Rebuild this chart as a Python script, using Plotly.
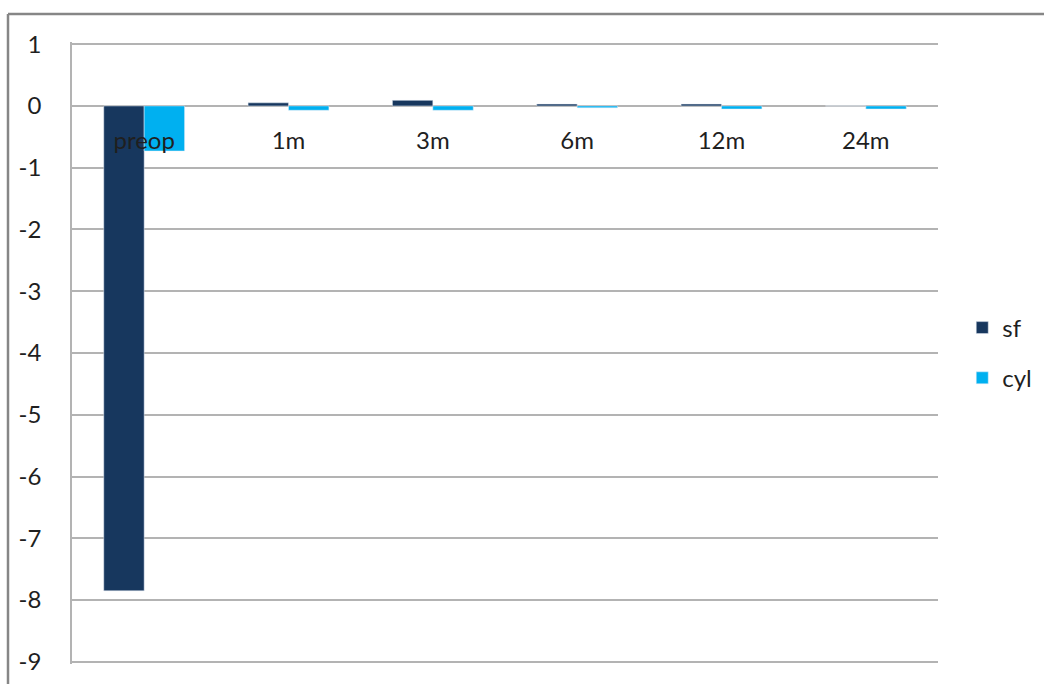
import plotly.graph_objects as go

# Mean values per follow-up visit
categories = ["preop", "1m", "3m", "6m", "12m", "24m"]
sf_values = [-7.85, 0.05, 0.09, 0.03, 0.03, 0.0]
cyl_values = [-0.73, -0.07, -0.07, -0.03, -0.05, -0.05]
y_ticks = [1, 0, -1, -2, -3, -4, -5, -6, -7, -8, -9]

W, H = 1044, 684
L, R, T, B = 72, 106, 42, 20
pw, ph = W - L - R, H - T - B

font = dict(family="Lato, Open Sans, Arial, sans-serif", size=24, color="#1f1f1f")

fig = go.Figure()
fig.add_trace(go.Bar(name="sf", x=categories, y=sf_values, marker=dict(color="#17375e"),
                     legendgroup="sf"))
fig.add_trace(go.Bar(name="cyl", x=categories, y=cyl_values, marker=dict(color="#00b0f0"),
                     legendgroup="cyl"))

# outer chart frame (top and left edges run off the page)
fx0 = (8 - L) / pw
fy1 = (H - B - 14) / ph
fig.add_shape(type="line", xref="paper", yref="paper", x0=fx0, x1=(W + 20 - L) / pw,
              y0=fy1, y1=fy1, line=dict(color="#868686", width=2.5))
fig.add_shape(type="line", xref="paper", yref="paper", x0=fx0, x1=fx0,
              y0=fy1, y1=-(B + 20) / ph, line=dict(color="#868686", width=2.5))

y_lo, y_hi = -9.035, 1.035
zero_frac = (0 - y_lo) / (y_hi - y_lo)

fig.update_layout(
    width=W, height=H,
    margin=dict(l=L, r=R, t=T, b=B, autoexpand=False),
    paper_bgcolor="white", plot_bgcolor="white",
    barmode="group", bargap=0.44, bargroupgap=0,
    font=font,
    showlegend=True,
    legend=dict(x=1.028, y=0.5, xanchor="left", yanchor="middle",
                font=dict(size=24, color="#1f1f1f"), tracegroupgap=16,
                itemwidth=30, bgcolor="rgba(0,0,0,0)"),
    xaxis=dict(type="category", anchor="free", position=zero_frac, showline=False,
               showgrid=False, zeroline=False, ticks="", ticklabelstandoff=18,
               tickfont=font, automargin=False),
    yaxis=dict(range=[y_lo, y_hi], tickvals=y_ticks, ticktext=[str(v) for v in y_ticks],
               showgrid=True, gridcolor="#b3b3b3", gridwidth=1.5,
               zeroline=True, zerolinecolor="#b3b3b3", zerolinewidth=1.5,
               showline=True, linecolor="#b3b3b3", linewidth=1.5,
               ticks="", ticklabelstandoff=24, tickfont=font, automargin=False),
)

fig.write_html("out.html")
